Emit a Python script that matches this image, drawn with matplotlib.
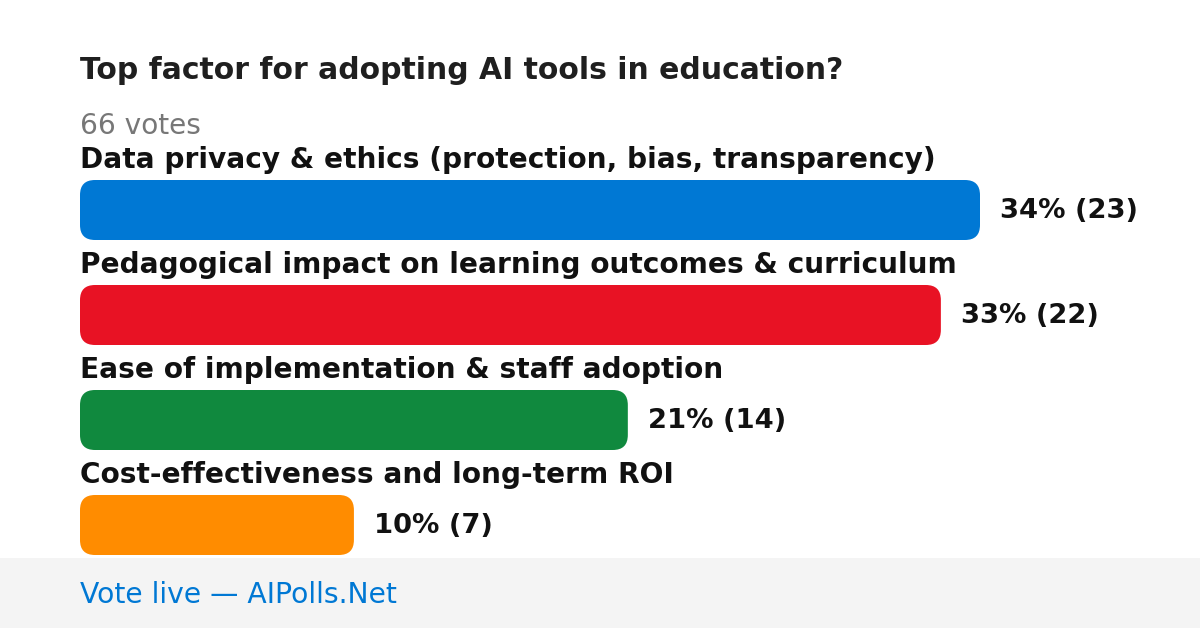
import matplotlib
matplotlib.use("Agg")
import matplotlib.pyplot as plt
from matplotlib.patches import FancyBboxPatch, Rectangle

plt.rcParams['font.family'] = ['DejaVu Sans']

# poll data
title = "Top factor for adopting AI tools in education?"
options = ["Data privacy & ethics (protection, bias, transparency)",
           "Pedagogical impact on learning outcomes & curriculum",
           "Ease of implementation & staff adoption",
           "Cost-effectiveness and long-term ROI"]
votes = [23, 22, 14, 7]
percents = [34, 33, 21, 10]
colors = ["#0078D4", "#E81224", "#10893E", "#FF8C00"]
total = 66

W, H = 1200, 628
fig = plt.figure(figsize=(W / 100, H / 100), dpi=100)
ax = fig.add_axes([0, 0, 1, 1])
ax.set_xlim(0, W)
ax.set_ylim(H, 0)
ax.axis("off")

left = 80
full = 900          # pixel width of the largest bar
bar_h = 60
top0 = 180
step = 105

ax.text(left, 79, title, fontsize=21.5, fontweight="bold", color="#1f1f1f", va="baseline")
ax.text(left, 134, f"{total} votes", fontsize=20.2, color="#777777", va="baseline")

vmax = max(votes)
for i, (lab, v, p, c) in enumerate(zip(options, votes, percents, colors)):
    y = top0 + i * step
    w = v / vmax * full
    ax.text(left, y - 12, lab, fontsize=20.2, fontweight="bold", color="#111111", va="baseline")
    r = 15
    box = FancyBboxPatch((left + r, y + r), w - 2 * r, bar_h - 2 * r,
                         boxstyle=f"round,pad={r}", fc=c, ec="none")
    ax.add_patch(box)
    ax.text(left + w + 20, y + 38, f"{p}% ({v})", fontsize=19.7, fontweight="bold",
            color="#111111", va="baseline")

# footer band
ax.add_patch(Rectangle((0, 558), W, H - 558, fc="#f4f4f4", ec="none"))
ax.text(left, 603, "Vote live \u2014 AIPolls.Net", fontsize=20.3, color="#0078D4", va="baseline")

fig.savefig("out.png", dpi=100)
